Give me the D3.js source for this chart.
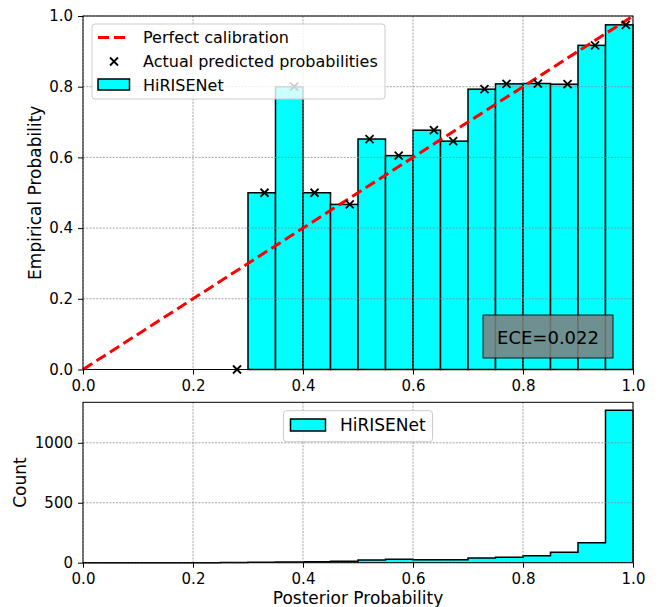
<!DOCTYPE html>
<html>
<head>
<meta charset="utf-8">
<script src="https://cdn.jsdelivr.net/npm/d3@7"></script>
<style>
  body { margin: 0; background: #fff; }
  svg { display: block; font-family: "DejaVu Sans", sans-serif; }
</style>
</head>
<body>
<svg id="chart" width="662" height="607"></svg>
<script>
// ---------- data ----------
const binWidth = 0.05;
const binLower = [0.30, 0.35, 0.40, 0.45, 0.50, 0.55, 0.60, 0.65, 0.70, 0.75, 0.80, 0.85, 0.90, 0.95];
const accuracy = [0.50, 0.80, 0.50, 0.467, 0.652, 0.605, 0.677, 0.646, 0.793, 0.808, 0.809, 0.807, 0.917, 0.975];
const confidence = [0.28, 0.330, 0.384, 0.421, 0.485, 0.521, 0.574, 0.638, 0.673, 0.730, 0.770, 0.827, 0.881, 0.931, 0.987];
const markerAcc = [0.0, 0.50, 0.80, 0.50, 0.467, 0.652, 0.605, 0.677, 0.646, 0.793, 0.808, 0.809, 0.807, 0.917, 0.975];
const histLower = [0.00, 0.05, 0.10, 0.15, 0.20, 0.25, 0.30, 0.35, 0.40, 0.45, 0.50, 0.55, 0.60, 0.65, 0.70, 0.75, 0.80, 0.85, 0.90, 0.95];
const histCounts = [0, 0, 0, 0, 0, 1, 3, 5, 8, 12, 22, 28, 25, 25, 39, 45, 58, 87, 167, 1272];
const xTicks = [0.0, 0.2, 0.4, 0.6, 0.8, 1.0];
const yTicksTop = [0.0, 0.2, 0.4, 0.6, 0.8, 1.0];
const yTicksBottom = [0, 500, 1000];
const eceLabel = "ECE=0.022";
const legendTop = ["Perfect calibration", "Actual predicted probabilities", "HiRISENet"];
const legendBottom = ["HiRISENet"];

// ---------- layout ----------
const svg = d3.select("#chart");
const L = 83, R = 633;
const top1 = 16, bot1 = 369.5;
const top2 = 402.3, bot2 = 562.7;
const CYAN = "#00ffff";

const x = d3.scaleLinear().domain([0, 1]).range([L, R]);
const y1 = d3.scaleLinear().domain([0, 1]).range([bot1, top1]);
const y2 = d3.scaleLinear().domain([0, 1338]).range([bot2, top2]);

function gridDash(sel) {
  sel.attr("stroke", "#8c8c8c").attr("stroke-width", 0.8).attr("stroke-dasharray", "2,1.3").attr("fill", "none");
}

// ---------- top panel ----------
const g1 = svg.append("g");
g1.selectAll("rect.bar").data(binLower).enter().append("rect")
  .attr("x", d => x(d))
  .attr("width", d => x(d + binWidth) - x(d))
  .attr("y", (d, i) => y1(accuracy[i]))
  .attr("height", (d, i) => y1(0) - y1(accuracy[i]))
  .attr("fill", CYAN).attr("stroke", "#000").attr("stroke-width", 1.5);

// grid on top
xTicks.forEach(t => {
  g1.append("line").attr("x1", x(t)).attr("x2", x(t)).attr("y1", top1).attr("y2", bot1).call(gridDash);
});
yTicksTop.forEach(t => {
  g1.append("line").attr("x1", L).attr("x2", R).attr("y1", y1(t)).attr("y2", y1(t)).call(gridDash);
});

// perfect calibration
g1.append("line").attr("x1", x(0)).attr("y1", y1(0)).attr("x2", x(1)).attr("y2", y1(1))
  .attr("stroke", "#ff0000").attr("stroke-width", 3).attr("stroke-dasharray", "11,5");

// markers
const mk = 4;
confidence.forEach((c, i) => {
  const cx = x(c), cy = y1(markerAcc[i]);
  g1.append("path").attr("d", `M${cx-mk},${cy-mk}L${cx+mk},${cy+mk}M${cx-mk},${cy+mk}L${cx+mk},${cy-mk}`)
    .attr("stroke", "#000").attr("stroke-width", 1.8);
});

// ECE box
const ece = g1.append("g");
ece.append("rect").attr("x", 483).attr("y", 315).attr("width", 130).attr("height", 43)
  .attr("fill", "#808080").attr("stroke", "#000").attr("stroke-width", 1).attr("opacity", 0.87);
ece.append("text").attr("x", 548).attr("y", 343.5).attr("text-anchor", "middle")
  .attr("font-size", 18).attr("fill", "#000").text(eceLabel);

// axes
const ax1 = g1.append("g").attr("transform", `translate(0,${bot1})`)
  .call(d3.axisBottom(x).tickValues(xTicks).tickFormat(d3.format(".1f")).tickSize(5).tickPadding(5.5));
const ay1 = g1.append("g").attr("transform", `translate(${L},0)`)
  .call(d3.axisLeft(y1).tickValues(yTicksTop).tickFormat(d3.format(".1f")).tickSize(5).tickPadding(5));
[ax1, ay1].forEach(a => { a.selectAll("text").attr("font-size", 15).attr("font-family", "DejaVu Sans").attr("fill", "#000"); a.select(".domain").remove(); });
g1.append("rect").attr("x", L).attr("y", top1).attr("width", R - L).attr("height", bot1 - top1)
  .attr("fill", "none").attr("stroke", "#000").attr("stroke-width", 1);

g1.append("text").attr("transform", `translate(41,${(top1 + bot1) / 2}) rotate(-90)`)
  .attr("text-anchor", "middle").attr("font-size", 17).text("Empirical Probability");

// legend top
const lg = g1.append("g");
lg.append("rect").attr("x", 92).attr("y", 24).attr("width", 293).attr("height", 75).attr("rx", 3)
  .attr("fill", "#fff").attr("fill-opacity", 0.8).attr("stroke", "#cccccc").attr("stroke-width", 1);
const rowY = [37.5, 61.5, 85];
lg.append("line").attr("x1", 98).attr("x2", 130).attr("y1", rowY[0]).attr("y2", rowY[0])
  .attr("stroke", "#ff0000").attr("stroke-width", 3).attr("stroke-dasharray", "11,5");
lg.append("path").attr("d", `M${114-mk},${rowY[1]-mk}L${114+mk},${rowY[1]+mk}M${114-mk},${rowY[1]+mk}L${114+mk},${rowY[1]-mk}`)
  .attr("stroke", "#000").attr("stroke-width", 1.8);
lg.append("rect").attr("x", 98).attr("y", 79).attr("width", 31.5).attr("height", 11)
  .attr("fill", CYAN).attr("stroke", "#000").attr("stroke-width", 1.5);
legendTop.forEach((t, i) => {
  lg.append("text").attr("x", 143).attr("y", rowY[i] + 5.5).attr("font-size", 16).text(t);
});

// ---------- bottom panel ----------
const g2 = svg.append("g");
const pts = [[0, 0]];
histLower.forEach((b, i) => { pts.push([b, histCounts[i]]); pts.push([b + binWidth, histCounts[i]]); });
pts.push([1, 0]);
const line = d3.line().x(d => x(d[0])).y(d => y2(d[1]));
g2.append("path").attr("d", line(pts) + "Z").attr("fill", CYAN).attr("stroke", "none");
g2.append("path").attr("d", line(pts)).attr("fill", "none").attr("stroke", "#000").attr("stroke-width", 1.5);

xTicks.forEach(t => {
  g2.append("line").attr("x1", x(t)).attr("x2", x(t)).attr("y1", top2).attr("y2", bot2).call(gridDash);
});
yTicksBottom.forEach(t => {
  g2.append("line").attr("x1", L).attr("x2", R).attr("y1", y2(t)).attr("y2", y2(t)).call(gridDash);
});

const ax2 = g2.append("g").attr("transform", `translate(0,${bot2})`)
  .call(d3.axisBottom(x).tickValues(xTicks).tickFormat(d3.format(".1f")).tickSize(5).tickPadding(5.5));
const ay2 = g2.append("g").attr("transform", `translate(${L},0)`)
  .call(d3.axisLeft(y2).tickValues(yTicksBottom).tickFormat(d3.format("d")).tickSize(5).tickPadding(5));
[ax2, ay2].forEach(a => { a.selectAll("text").attr("font-size", 15).attr("font-family", "DejaVu Sans").attr("fill", "#000"); a.select(".domain").remove(); });
g2.append("rect").attr("x", L).attr("y", top2).attr("width", R - L).attr("height", bot2 - top2)
  .attr("fill", "none").attr("stroke", "#000").attr("stroke-width", 1);

g2.append("text").attr("transform", `translate(26,${(top2 + bot2) / 2}) rotate(-90)`)
  .attr("text-anchor", "middle").attr("font-size", 17).text("Count");
g2.append("text").attr("x", (L + R) / 2).attr("y", 603.5).attr("text-anchor", "middle")
  .attr("font-size", 17).text("Posterior Probability");

// legend bottom
const lg2 = g2.append("g");
lg2.append("rect").attr("x", 283.5).attr("y", 410.7).attr("width", 149).attr("height", 31).attr("rx", 3)
  .attr("fill", "#fff").attr("fill-opacity", 0.8).attr("stroke", "#cccccc").attr("stroke-width", 1);
lg2.append("rect").attr("x", 290.5).attr("y", 419).attr("width", 35).attr("height", 12)
  .attr("fill", CYAN).attr("stroke", "#000").attr("stroke-width", 1.5);
lg2.append("text").attr("x", 340).attr("y", 431).attr("font-size", 17).text(legendBottom[0]);
</script>
</body>
</html>
